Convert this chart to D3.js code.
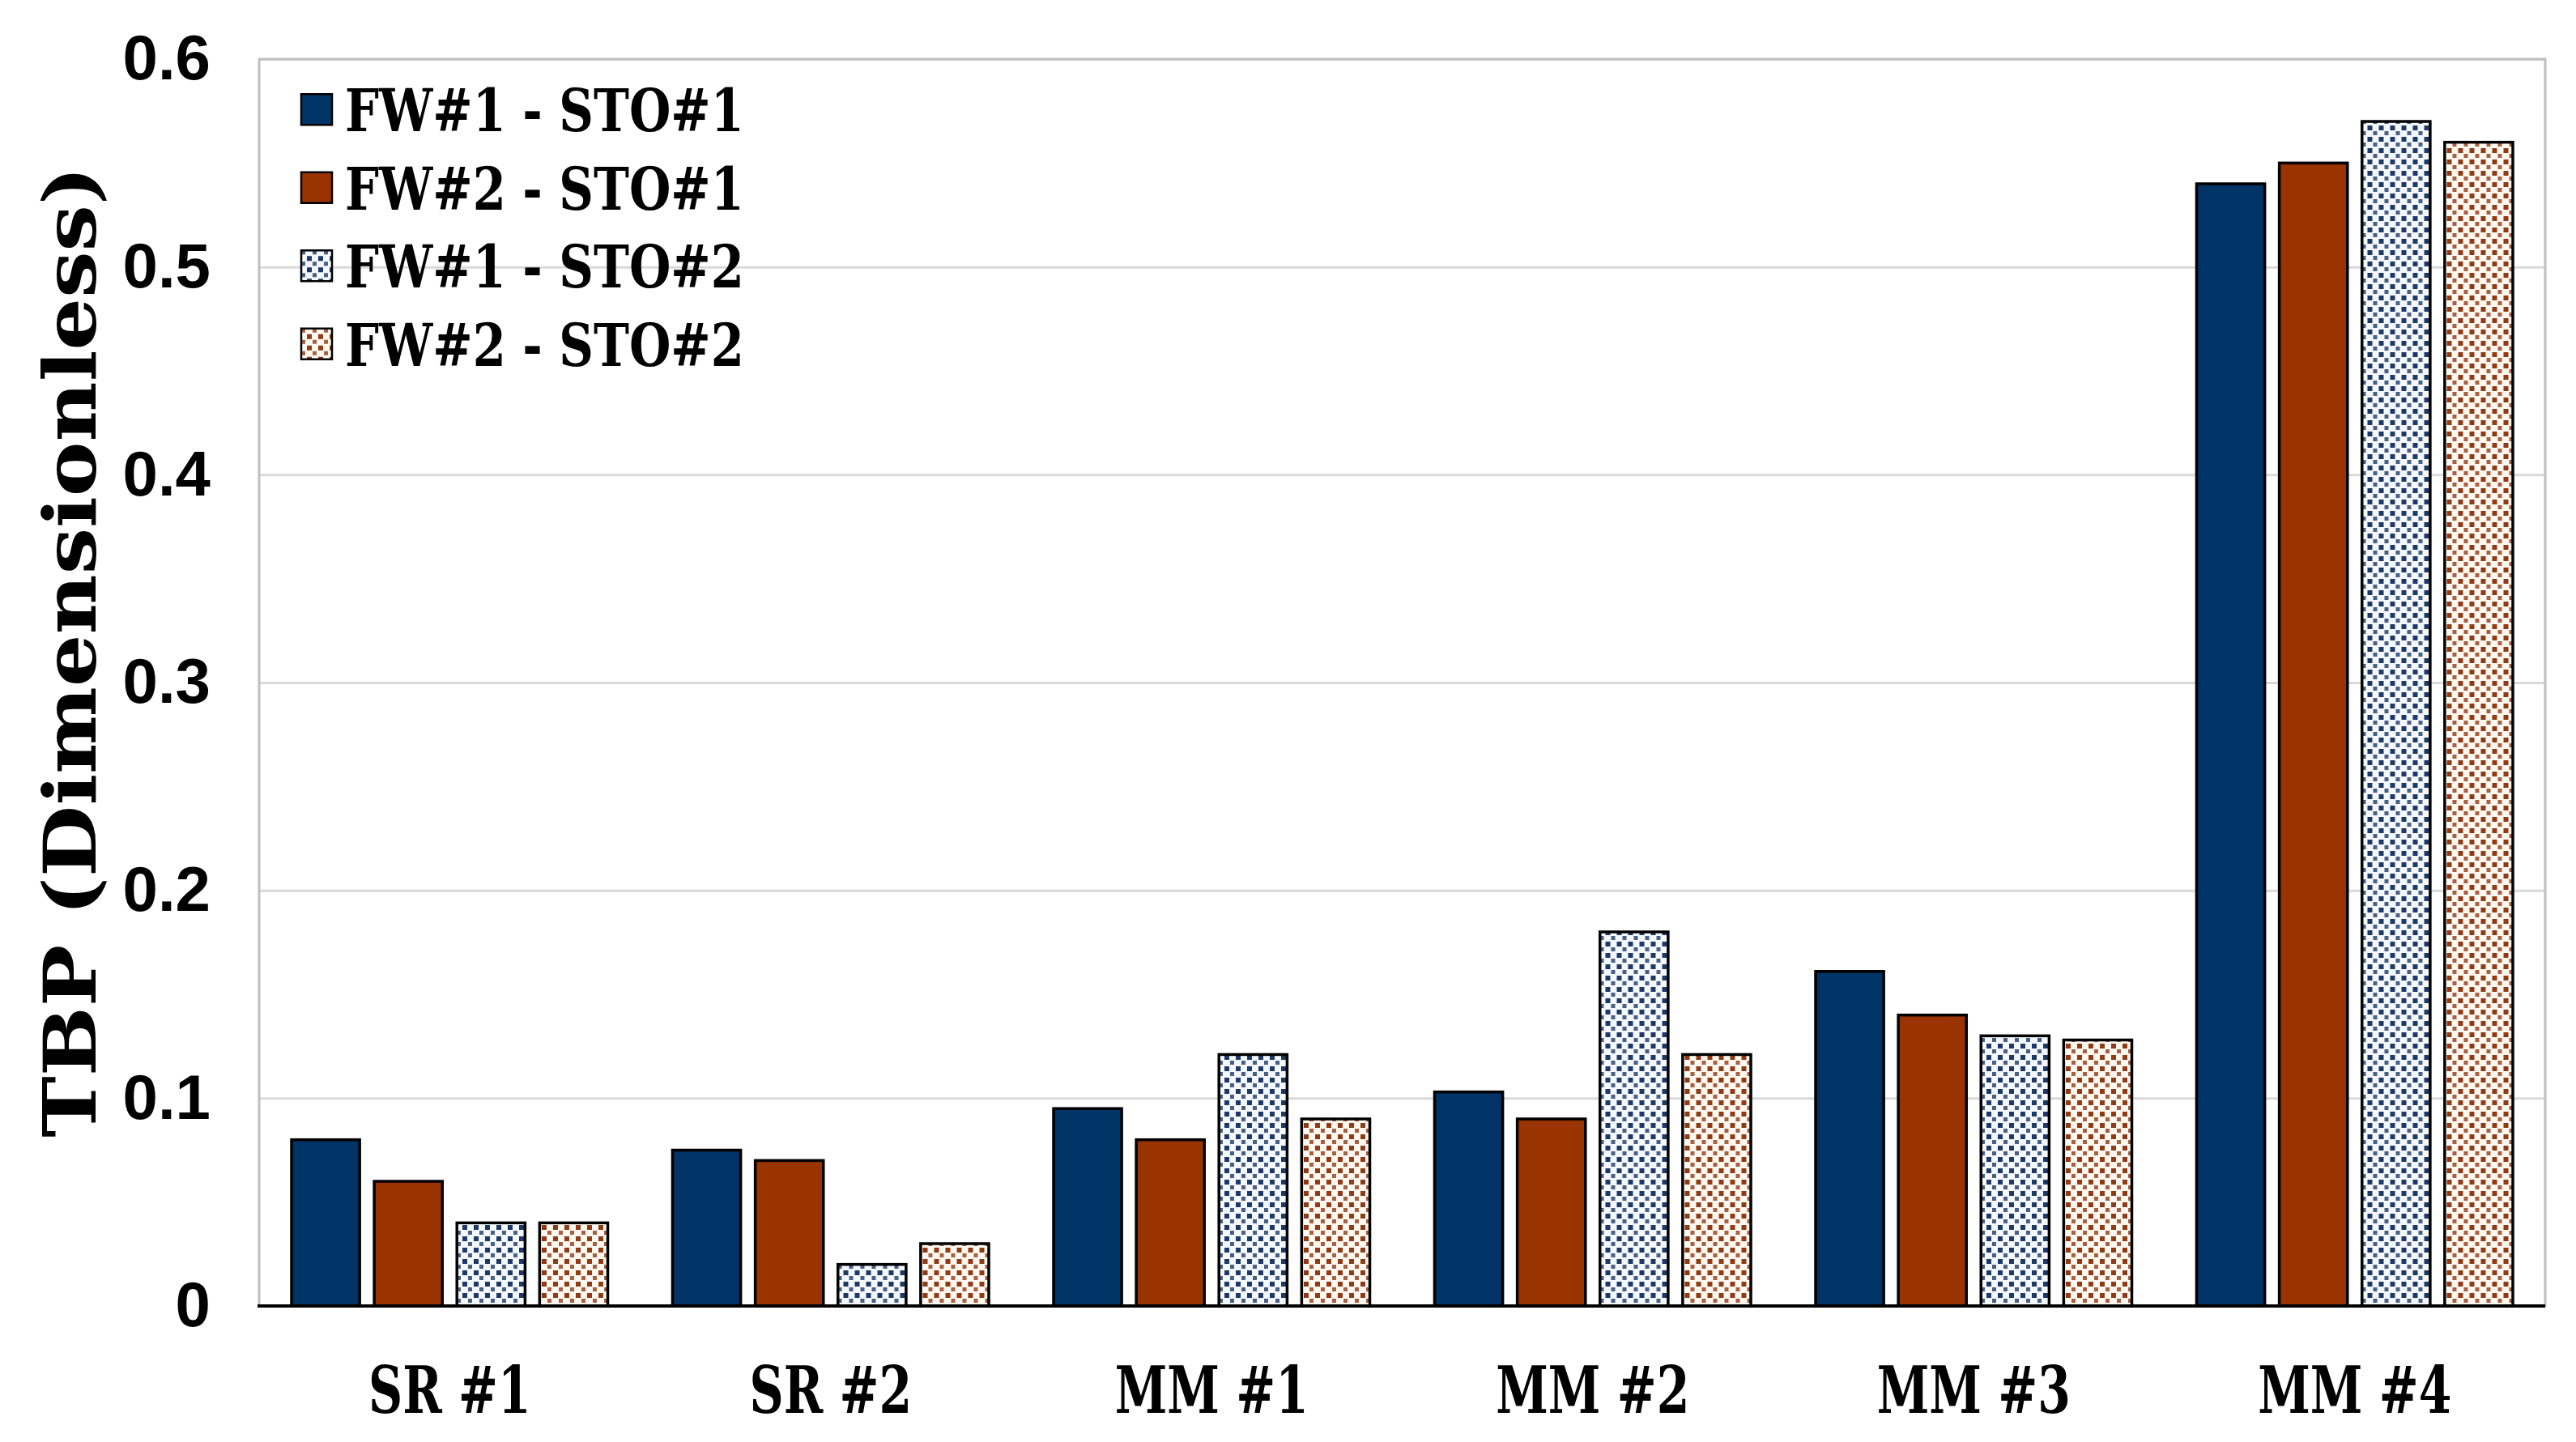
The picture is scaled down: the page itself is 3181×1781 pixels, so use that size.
<!DOCTYPE html>
<html>
<head>
<meta charset="utf-8">
<script src="https://cdn.jsdelivr.net/npm/d3@7"></script>
<style>
  html, body { margin: 0; padding: 0; background: #ffffff; }
  svg { display: block; }
</style>
</head>
<body>
<svg id="chart" width="3181" height="1781"></svg>
<script>
// ---------------- data ----------------
const categories = ["SR #1", "SR #2", "MM #1", "MM #2", "MM #3", "MM #4"];
const seriesNames = ["FW#1 - STO#1", "FW#2 - STO#1", "FW#1 - STO#2", "FW#2 - STO#2"];
const fw1sto1 = [0.080, 0.075, 0.095, 0.103, 0.161, 0.540];
const fw2sto1 = [0.060, 0.070, 0.080, 0.090, 0.140, 0.550];
const fw1sto2 = [0.040, 0.020, 0.121, 0.180, 0.130, 0.570];
const fw2sto2 = [0.040, 0.030, 0.090, 0.121, 0.128, 0.560];
const yTicks = [0, 0.1, 0.2, 0.3, 0.4, 0.5, 0.6];
const yTickLabels = ["0", "0.1", "0.2", "0.3", "0.4", "0.5", "0.6"];
const yTitle = "TBP (Dimensionless)";

const seriesValues = [fw1sto1, fw2sto1, fw1sto2, fw2sto2];
const table = categories.map((c, i) => ({
  category: c,
  values: seriesNames.map((s, k) => ({ series: s, idx: k, value: seriesValues[k][i] }))
}));

// ---------------- layout ----------------
const plot = { left: 320, right: 3143, top: 73, bottom: 1613 };
const svg = d3.select("#chart");

// patterns
const defs = svg.append("defs");
function dotPattern(id, bg, dot) {
  const p = defs.append("pattern").attr("id", id)
    .attr("patternUnits", "userSpaceOnUse").attr("width", 14).attr("height", 14);
  p.append("rect").attr("width", 14).attr("height", 14).attr("fill", bg);
  p.append("rect").attr("x", 1).attr("y", 1).attr("width", 6).attr("height", 6).attr("fill", dot);
  p.append("rect").attr("x", 8).attr("y", 8).attr("width", 5).attr("height", 5).attr("fill", dot).attr("opacity", 0.8);
}
dotPattern("patBlue", "#f4f8fc", "#1d3a66");
dotPattern("patBrown", "#fff8f0", "#8e3b16");

const fills = ["#003366", "#993300", "url(#patBlue)", "url(#patBrown)"];

const x0 = d3.scaleBand().domain(categories).range([plot.left, plot.right])
  .paddingInner(0.17).paddingOuter(0.085);
const x1 = d3.scaleBand().domain(seriesNames).range([0, x0.bandwidth()])
  .paddingInner(0.176).paddingOuter(0);
const y = d3.scaleLinear().domain([0, 0.6]).range([plot.bottom, plot.top]);

// gridlines
svg.append("g")
  .attr("transform", `translate(${plot.left},0)`)
  .call(d3.axisLeft(y).tickValues(yTicks.slice(1)).tickSize(-(plot.right - plot.left)).tickFormat(""))
  .call(g => g.select(".domain").remove())
  .call(g => g.selectAll("line").attr("stroke", "#d9d9d9").attr("stroke-width", 3));

// plot border (top, left, right)
svg.append("rect")
  .attr("x", plot.left).attr("y", plot.top)
  .attr("width", plot.right - plot.left).attr("height", plot.bottom - plot.top)
  .attr("fill", "none").attr("stroke", "#bfbfbf").attr("stroke-width", 3);

// y tick labels
svg.append("g")
  .attr("transform", `translate(${plot.left},0)`)
  .call(d3.axisLeft(y).tickValues(yTicks).tickSize(0).tickPadding(60)
    .tickFormat((d, i) => yTickLabels[i]))
  .call(g => g.select(".domain").remove())
  .call(g => g.selectAll("text")
    .attr("font-family", "'Liberation Sans', Arial, sans-serif")
    .attr("font-weight", "bold")
    .attr("font-size", 78)
    .attr("fill", "#000"));

// bars
const groups = svg.append("g").selectAll("g").data(table).join("g")
  .attr("transform", d => `translate(${x0(d.category)},0)`);
groups.selectAll("rect").data(d => d.values).join("rect")
  .attr("x", d => x1(d.series))
  .attr("y", d => y(d.value))
  .attr("width", x1.bandwidth())
  .attr("height", d => y(0) - y(d.value))
  .attr("fill", d => fills[d.idx])
  .attr("stroke", "#000")
  .attr("stroke-width", 3.5);

// baseline
svg.append("line")
  .attr("x1", plot.left - 2).attr("x2", plot.right)
  .attr("y1", y(0)).attr("y2", y(0))
  .attr("stroke", "#000").attr("stroke-width", 4);

// category labels
const serif = "'DejaVu Serif', 'Liberation Serif', serif";
svg.append("g").selectAll("g").data(categories).join("g")
  .attr("transform", d => `translate(${x0(d) + x0.bandwidth() / 2},1745) scale(0.73,1)`)
  .append("text")
  .attr("text-anchor", "middle")
  .attr("font-family", serif)
  .attr("font-weight", "bold")
  .attr("font-size", 80)
  .attr("fill", "#000")
  .text(d => d);

// y-axis title
svg.append("text")
  .attr("transform", `translate(118,805) rotate(-90)`)
  .attr("text-anchor", "middle")
  .attr("font-family", serif)
  .attr("font-weight", "bold")
  .attr("font-size", 90)
  .attr("textLength", 1200)
  .attr("lengthAdjust", "spacingAndGlyphs")
  .attr("fill", "#000")
  .text(yTitle);

// legend
const legendRowY = d3.scaleBand().domain(seriesNames).range([88, 474]);
const leg = svg.append("g").selectAll("g").data(seriesNames).join("g")
  .attr("transform", d => `translate(0,${legendRowY(d) + legendRowY.bandwidth() / 2})`);
leg.append("rect")
  .attr("x", 372).attr("y", -20).attr("width", 38).attr("height", 38)
  .attr("fill", (d, i) => fills[i])
  .attr("stroke", "#000").attr("stroke-width", 2.5);
leg.append("g")
  .attr("transform", "translate(426,26) scale(0.82,1)")
  .append("text")
  .attr("font-family", serif)
  .attr("font-weight", "bold")
  .attr("font-size", 72)
  .attr("fill", "#000")
  .text(d => d);
</script>
</body>
</html>
